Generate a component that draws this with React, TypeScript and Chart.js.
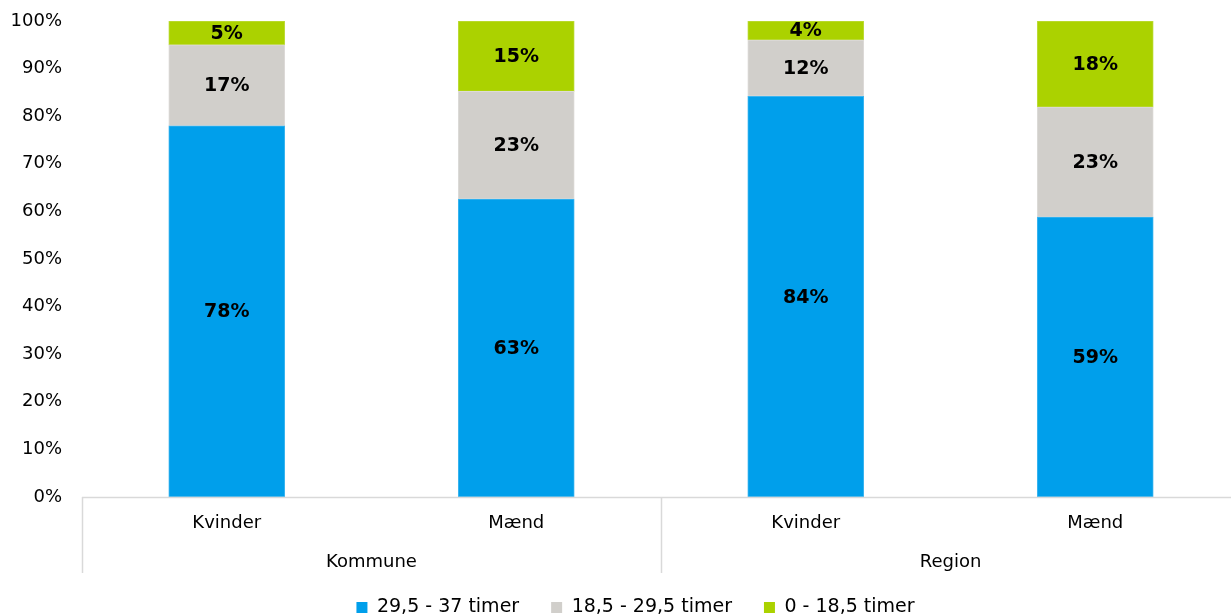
import React, { useEffect, useRef } from 'react';
import { Chart, registerables } from 'chart.js';

Chart.register(...registerables);

const subCategories = ['Kvinder', 'Mænd', 'Kvinder', 'Mænd'];
const groupLabels = ['Kommune', 'Region'];
const groupSizes = [2, 2];
const seriesNames = ['29,5 - 37 timer', '18,5 - 29,5 timer', '0 - 18,5 timer'];
const seriesHigh = [78, 62.6, 84.2, 58.8];
const seriesMid = [17, 22.6, 11.8, 23.1];
const seriesLow = [5, 14.8, 4.0, 18.1];
const yTickStep = 10;
const yMax = 100;

const COLORS = ['#009FEB', '#D1CFCB', '#ABD200'];
const BORDERS = ['#3DB5EF', '#DDDBD8', '#BDDB3A'];
const FONT = 'DejaVu Sans';

const valueLabelPlugin = {
  id: 'valueLabels',
  afterDatasetsDraw(chart: any) {
    const ctx = chart.ctx;
    ctx.save();
    ctx.font = `bold 19px "${FONT}"`;
    ctx.fillStyle = '#000';
    ctx.textAlign = 'center';
    ctx.textBaseline = 'middle';
    chart.data.datasets.forEach((ds: any, di: number) => {
      const meta = chart.getDatasetMeta(di);
      meta.data.forEach((el: any, i: number) => {
        const { x, y, base } = el.getProps(['x', 'y', 'base'], true);
        const v = ds.data[i].y;
        ctx.fillText(Math.round(v) + '%', x, (y + base) / 2 + 1);
      });
    });
    ctx.restore();
  },
};

const legendShiftPlugin = {
  id: 'legendShift',
  afterLayout(chart: any) {
    const lg = chart.legend;
    if (!lg) return;
    lg.top += 13;
    lg.bottom += 13;
    lg.left += 40;
  },
};

const categoryAxisPlugin = {
  id: 'categoryAxis',
  afterDraw(chart: any) {
    const ctx = chart.ctx;
    const xs = chart.scales.x;
    const area = chart.chartArea;
    const bottom = area.bottom;
    const lineEnd = bottom + 76;
    ctx.save();
    ctx.strokeStyle = '#D9D9D9';
    ctx.lineWidth = 1.5;
    ctx.beginPath();
    ctx.moveTo(xs.getPixelForValue(-0.5), bottom + 0.5);
    ctx.lineTo(chart.width, bottom + 0.5);
    let start = -0.5;
    ctx.moveTo(Math.round(xs.getPixelForValue(start)) + 0.5, bottom);
    ctx.lineTo(Math.round(xs.getPixelForValue(start)) + 0.5, lineEnd);
    groupSizes.forEach((n) => {
      start += n;
      const px = Math.round(xs.getPixelForValue(start)) + 0.5;
      ctx.moveTo(px, bottom);
      ctx.lineTo(px, lineEnd);
    });
    ctx.stroke();

    ctx.fillStyle = '#000';
    ctx.font = `18px "${FONT}"`;
    ctx.textAlign = 'center';
    ctx.textBaseline = 'middle';
    subCategories.forEach((lab, i) => {
      ctx.fillText(lab, xs.getPixelForValue(i), bottom + 26);
    });
    let g0 = 0;
    groupLabels.forEach((lab, gi) => {
      const n = groupSizes[gi];
      const c = g0 + (n - 1) / 2;
      ctx.fillText(lab, xs.getPixelForValue(c), bottom + 65);
      g0 += n;
    });
    ctx.restore();
  },
};

export default function App() {
  const ref = useRef<HTMLCanvasElement>(null);

  useEffect(() => {
    document.body.style.margin = '0';
    const canvas = ref.current;
    if (!canvas) return;
    const toPoints = (arr: number[]) => arr.map((v, i) => ({ x: i, y: v }));
    const categoryWidth = 289.5;
    const areaLeft = 82;
    const xMax = -0.5 + (1231 - areaLeft) / categoryWidth;

    const mk = (i: number, arr: number[]) => ({
      label: seriesNames[i],
      data: toPoints(arr),
      backgroundColor: COLORS[i],
      borderColor: BORDERS[i],
      borderWidth: 1,
      borderSkipped: false,
    });

    const chart = new Chart(canvas, {
      type: 'bar',
      data: {
        datasets: [mk(0, seriesHigh), mk(1, seriesMid), mk(2, seriesLow)] as any,
      },
      options: {
        animation: false,
        responsive: false,
        events: [],
        layout: { padding: { top: 21, left: 0, right: 0, bottom: 0 } },
        datasets: { bar: { barThickness: 116 } } as any,
        scales: {
          x: {
            type: 'linear',
            stacked: true,
            offset: false,
            min: -0.5,
            max: xMax,
            bounds: 'data',
            ticks: { display: false },
            grid: { display: false, offset: false },
            border: { display: false },
            afterFit(scale: any) {
              const lg = scale.chart.legend;
              const lh = lg ? lg.height : 0;
              scale.height = 614 - 497 - lh;
            },
          },
          y: {
            stacked: true,
            min: 0,
            max: yMax,
            ticks: {
              stepSize: yTickStep,
              padding: 0,
              color: '#000',
              font: { family: FONT, size: 18 },
              callback: (v: any) => v + '%',
            },
            grid: { display: false, drawTicks: true, tickLength: 20 },
            border: { display: false },
            afterFit(scale: any) {
              scale.width = areaLeft;
            },
          },
        } as any,
        plugins: {
          legend: {
            position: 'bottom',
            labels: {
              boxWidth: 11,
              boxHeight: 11,
              padding: 32,
              color: '#000',
              font: { family: FONT, size: 19 },
              generateLabels: (c: any) =>
                c.data.datasets.map((ds: any, i: number) => ({
                  text: ds.label,
                  fillStyle: COLORS[i],
                  strokeStyle: COLORS[i],
                  lineWidth: 0,
                  fontColor: '#000',
                  hidden: false,
                  datasetIndex: i,
                })),
            },
          },
          tooltip: { enabled: false },
        },
      },
      plugins: [valueLabelPlugin, categoryAxisPlugin, legendShiftPlugin],
    });
    return () => chart.destroy();
  }, []);

  return (
    <div style={{ width: 1231, height: 614 }}>
      <canvas ref={ref} width={1231} height={614} style={{ display: 'block' }} />
    </div>
  );
}
